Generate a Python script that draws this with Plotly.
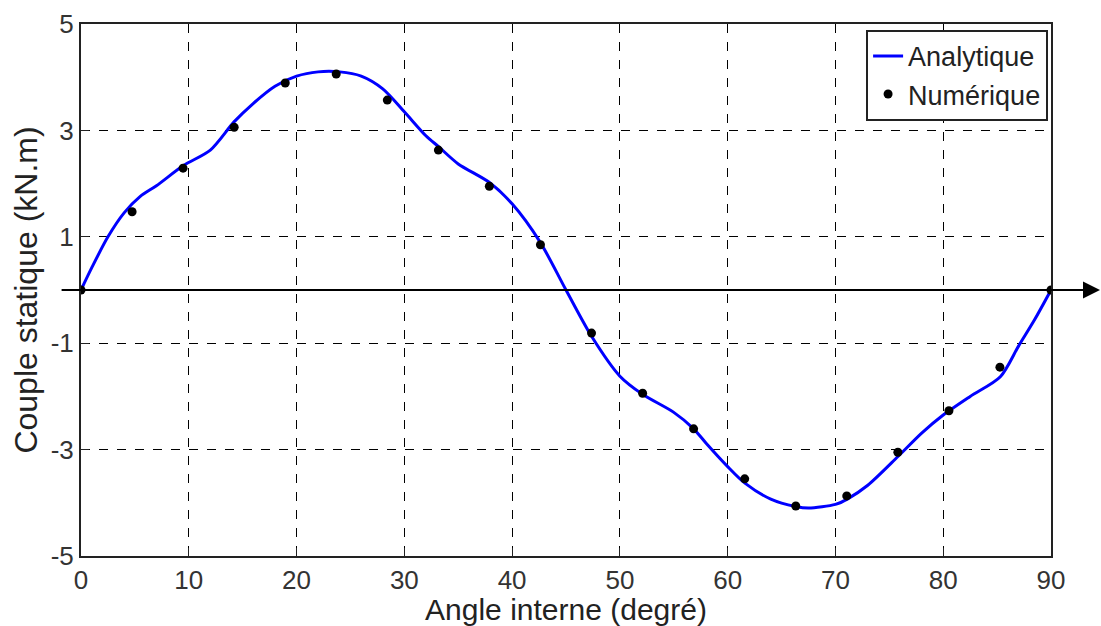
import plotly.graph_objects as go

# Analytic curve
angle_analytic = [0, 1, 2.5, 4, 5.5, 7, 9.5, 12, 14.2, 16, 18, 20, 22, 24, 26, 28, 30, 32,
                  33.2, 35, 37.9, 40, 42.6, 45, 47.4, 50, 52.1, 55, 56.8, 58, 60, 61.6, 64,
                  66.3, 67.5, 70, 71.1, 73, 75.8, 78, 80, 82.5, 85.3, 87, 88.5, 90]
couple_analytic = [0, 0.42, 1.0, 1.45, 1.76, 1.96, 2.34, 2.63, 3.16, 3.51, 3.83, 4.02, 4.1,
                   4.1, 4.02, 3.78, 3.35, 2.9, 2.69, 2.37, 2.02, 1.62, 0.9, 0, -0.88, -1.62,
                   -1.96, -2.3, -2.6, -2.88, -3.32, -3.63, -3.93, -4.07, -4.1, -4.03, -3.93,
                   -3.67, -3.13, -2.69, -2.35, -2.0, -1.63, -1.05, -0.55, 0]

# Numerical points
angle_num = [0, 4.74, 9.47, 14.21, 18.95, 23.68, 28.42, 33.16, 37.89, 42.63, 47.37,
             52.11, 56.84, 61.58, 66.32, 71.05, 75.79, 80.53, 85.26, 90]
couple_num = [0, 1.47, 2.29, 3.06, 3.89, 4.06, 3.57, 2.63, 1.95, 0.85, -0.81, -1.94,
              -2.61, -3.55, -4.06, -3.87, -3.05, -2.27, -1.45, 0]

x_ticks = [0, 10, 20, 30, 40, 50, 60, 70, 80, 90]
y_ticks = [-5, -3, -1, 1, 3, 5]
y_ticklabels = ["-5", "-3", "-1", "1", "3", "5"]

FONT = "Liberation Sans, Arial, sans-serif"

fig = go.Figure()
fig.add_trace(go.Scatter(x=angle_analytic, y=couple_analytic, mode="lines",
                         line=dict(color="#0000ff", width=3, shape="spline", smoothing=0.8),
                         name="Analytique"))
fig.add_trace(go.Scatter(x=angle_num, y=couple_num, mode="markers",
                         marker=dict(color="black", size=9),
                         name="Numérique"))

# zero line with arrow extending beyond plot
fig.add_shape(type="line", xref="paper", yref="y", x0=-0.02, x1=1.04, y0=0, y1=0,
              line=dict(color="black", width=2), layer="above")
fig.add_annotation(xref="paper", yref="y", x=1.054, y=0, ax=-16, ay=0, text="",
                   showarrow=True, arrowhead=2, arrowsize=1.7, arrowwidth=2,
                   arrowcolor="black")

axis_common = dict(showline=True, linecolor="#222", linewidth=2, mirror=True,
                   showgrid=True, gridcolor="black", gridwidth=1.4, griddash="dash",
                   ticks="inside", ticklen=8, tickcolor="#222", zeroline=False,
                   automargin=False,
                   tickfont=dict(family=FONT, size=26, color="#333"))

fig.update_xaxes(range=[0, 90], tickvals=x_ticks,
                 title=dict(text="Angle interne (degré)", standoff=5,
                            font=dict(family=FONT, size=30, color="#222")),
                 **axis_common)
fig.update_yaxes(range=[-5, 5], tickvals=y_ticks, ticktext=y_ticklabels,
                 title=dict(text="Couple statique (kN.m)", standoff=3,
                            font=dict(family=FONT, size=32, color="#222")),
                 **axis_common)

fig.update_layout(
    width=1101, height=626,
    margin=dict(l=81, r=50, t=24, b=70),
    plot_bgcolor="white", paper_bgcolor="white",
    font=dict(family=FONT, color="#222"),
    legend=dict(x=0.997, y=0.989, xanchor="right", yanchor="top",
                bgcolor="white", bordercolor="#222", borderwidth=2,
                font=dict(family=FONT, size=27, color="#222"),
                itemwidth=30, tracegroupgap=0),
)

fig.write_html("out.html", config={"displayModeBar": False},
               post_script="document.body.style.margin='0px';document.body.style.overflow='hidden';")
